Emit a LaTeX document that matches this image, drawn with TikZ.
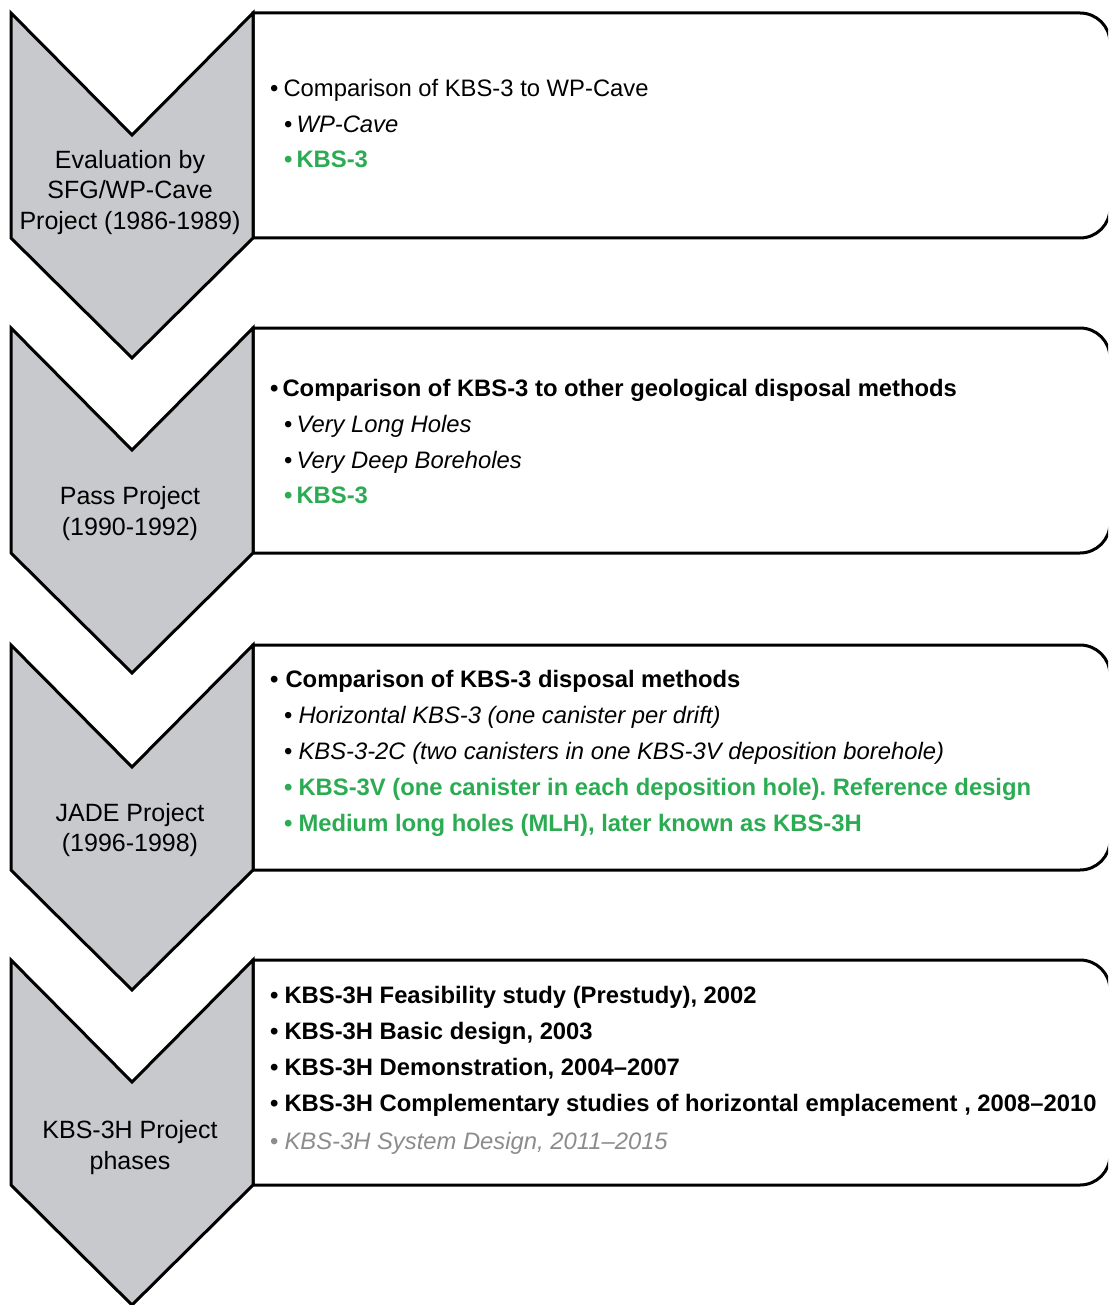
\documentclass[tikz,border=0pt]{standalone}
\usepackage{fontspec}
\setmainfont{Liberation Sans}
\usetikzlibrary{positioning}
\definecolor{chevgray}{RGB}{200,201,204}
\definecolor{kbsgreen}{RGB}{43,172,82}
\definecolor{oldgray}{RGB}{140,140,140}
\frenchspacing

\begin{document}
\begin{tikzpicture}[
		x=1pt,y=-1pt,
		chevron/.style={draw,line width=3pt,fill=chevgray,line join=miter},
		panel/.style={draw,line width=3pt,fill=white},
		phase/.style={align=center,inner sep=0pt,font=\fontsize{25}{30.5}\selectfont},
		item/.style={anchor=base west,inner sep=0pt,font=\fontsize{23.8}{28}\selectfont},
		head/.style={item,font=\fontsize{23.8}{28}\selectfont\bfseries},
		sub/.style={item,font=\fontsize{23.8}{28}\selectfont\itshape},
		good/.style={item,text=kbsgreen,font=\fontsize{23.8}{28}\selectfont\bfseries},
		later/.style={item,text=oldgray,font=\fontsize{23.8}{28}\selectfont\itshape}
		]
		
		\useasboundingbox (0,0) rectangle (1108,1305);
		\clip (0,0) rectangle (1108,1305);
		
		% panels
		\draw[panel] (253,13) -- (1080,13) .. controls (1096.6,13) and (1110,26.4) .. (1110,43)
		-- (1110,208) .. controls (1110,224.6) and (1096.6,238) .. (1080,238) -- (253,238) -- cycle;
		\draw[panel] (253,328) -- (1080,328) .. controls (1096.6,328) and (1110,341.4) .. (1110,358)
		-- (1110,523) .. controls (1110,539.6) and (1096.6,553) .. (1080,553) -- (253,553) -- cycle;
		\draw[panel] (253,645) -- (1080,645) .. controls (1096.6,645) and (1110,658.4) .. (1110,675)
		-- (1110,840) .. controls (1110,856.6) and (1096.6,870) .. (1080,870) -- (253,870) -- cycle;
		\draw[panel] (253,960) -- (1080,960) .. controls (1096.6,960) and (1110,973.4) .. (1110,990)
		-- (1110,1155) .. controls (1110,1171.6) and (1096.6,1185) .. (1080,1185) -- (253,1185) -- cycle;
		
		% chevrons
		\draw[chevron] (11,13) -- (132,135) -- (253,13) -- (253,238) -- (132,358) -- (11,238) -- cycle;
		\draw[chevron] (11,328) -- (132,450) -- (253,328) -- (253,553) -- (132,673) -- (11,553) -- cycle;
		\draw[chevron] (11,645) -- (132,767) -- (253,645) -- (253,870) -- (132,990) -- (11,870) -- cycle;
		\draw[chevron] (11,960) -- (132,1082) -- (253,960) -- (253,1185) -- (132,1305) -- (11,1185) -- cycle;
		
		% phase names
		\node[phase] (sfg) at (130,192.5) {Evaluation by\\SFG/WP-Cave\\Project (1986-1989)};
		\node[phase] (pass) at (130,513.5) {Pass Project\\(1990-1992)};
		\node[phase] (jade) at (130,830) {JADE Project\\(1996-1998)};
		\node[phase] (kbsh) at (130,1147.5) {KBS-3H Project\\phases};
		
		% SFG/WP-Cave
		\node[item] (sfg1) at (270,97) {\textbullet\hspace{5pt}Comparison of KBS-3 to WP-Cave};
		\node[sub] (sfg2) at (284,132.7) {{\upshape\textbullet}\hspace{4pt}WP-Cave};
		\node[good] (sfg3) at (284,167.7) {\textbullet\hspace{4pt}KBS-3};
		
		% Pass
		\node[head] (pass1) at (270,396) {\textbullet\hspace{4pt}Comparison of KBS-3 to other geological disposal methods};
		\node[sub] (pass2) at (284,432) {{\upshape\textbullet}\hspace{4pt}Very Long Holes};
		\node[sub] (pass3) at (284,468) {{\upshape\textbullet}\hspace{4pt}Very Deep Boreholes};
		\node[good] (pass4) at (284,503) {\textbullet\hspace{4pt}KBS-3};
		
		% JADE
		\node[head] (jade1) at (270,687) {\textbullet\hspace{7pt}Comparison of KBS-3 disposal methods};
		\node[sub] (jade2) at (284,723) {{\upshape\textbullet}\hspace{6pt}Horizontal KBS-3 (one canister per drift)};
		\node[sub] (jade3) at (284,759) {{\upshape\textbullet}\hspace{6pt}KBS-3-2C (two canisters in one KBS-3V deposition borehole)};
		\node[good] (jade4) at (284,795) {\textbullet\hspace{6pt}KBS-3V (one canister in each deposition hole). Reference design};
		\node[good] (jade5) at (284,831) {\textbullet\hspace{6pt}Medium long holes (MLH), later known as KBS-3H};
		
		% KBS-3H
		\node[head] (kbsh1) at (270,1003) {\textbullet\hspace{6pt}KBS-3H Feasibility study (Prestudy), 2002};
		\node[head] (kbsh2) at (270,1039) {\textbullet\hspace{6pt}KBS-3H Basic design, 2003};
		\node[head] (kbsh3) at (270,1075) {\textbullet\hspace{6pt}KBS-3H Demonstration, 2004--2007};
		\node[head] (kbsh4) at (270,1111) {\textbullet\hspace{6pt}KBS-3H Complementary studies of horizontal emplacement , 2008--2010};
		\node[later] (kbsh5) at (270,1149) {{\upshape\textbullet}\hspace{6pt}KBS-3H System Design, 2011--2015};
		
	\end{tikzpicture}
\end{document}
